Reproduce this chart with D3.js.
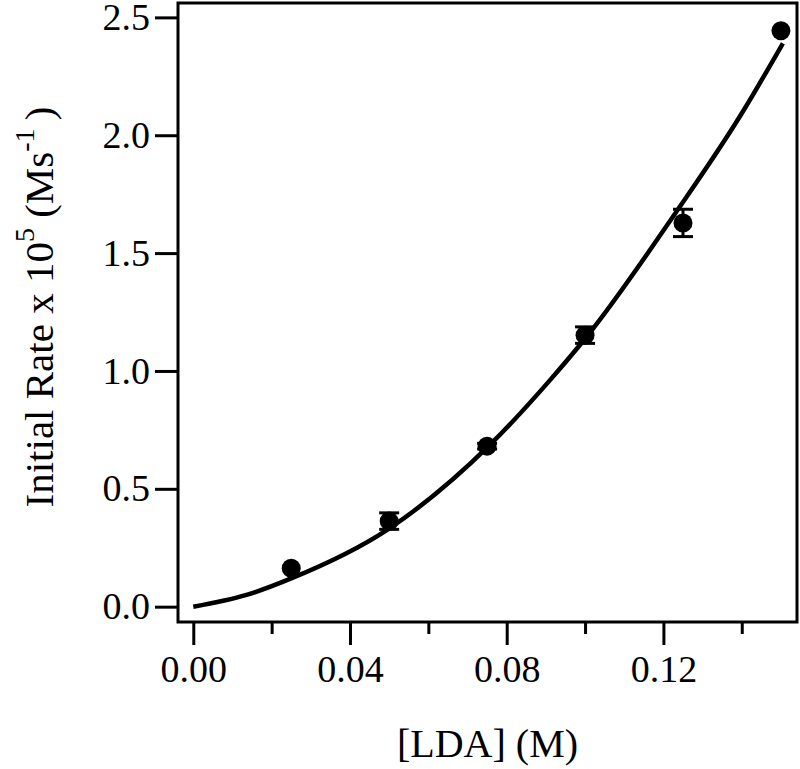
<!DOCTYPE html>
<html>
<head>
<meta charset="utf-8">
<script src="https://cdn.jsdelivr.net/npm/d3@7"></script>
<style>
  body { margin:0; background:#fff; }
  svg { display:block; }
  text { font-family: "Palatino Linotype", "Book Antiqua", Palatino, "Liberation Serif", serif; fill:#000; }
</style>
</head>
<body>
<div id="chart"></div>
<script>
// measured points
var lda = [0.025, 0.05, 0.075, 0.10, 0.125, 0.15];
var rate = [0.163, 0.363, 0.681, 1.152, 1.628, 2.443];
var rateErr = [0.0, 0.035, 0.012, 0.035, 0.058, 0.0];

// fitted curve
var fitX = [0.000, 0.0136, 0.025, 0.0494, 0.0757, 0.091, 0.1004, 0.123, 0.1399, 0.1505];
var fitY = [0.000, 0.050, 0.120, 0.325, 0.686, 0.960, 1.145, 1.668, 2.090, 2.390];

var xTicks = [0, 0.04, 0.08, 0.12];
var xMinor = [0.02, 0.06, 0.10, 0.14];
var yTicks = [0, 0.5, 1.0, 1.5, 2.0, 2.5];

var W = 800, H = 769;
var pl = 178, pr = 797, pt = 3, pb = 622;

var svg = d3.select("#chart").append("svg").attr("width", W).attr("height", H);

var x = d3.scaleLinear().domain([-0.0039, 0.1541]).range([pl, pr]);
var y = d3.scaleLinear().domain([-0.065, 2.561]).range([pb, pt]);

// frame
svg.append("rect").attr("x", pl).attr("y", pt)
  .attr("width", pr-pl).attr("height", pb-pt)
  .attr("fill", "none").attr("stroke", "#000").attr("stroke-width", 3);

// x axis
svg.append("g").attr("transform", "translate(0," + pb + ")")
  .call(d3.axisBottom(x).tickValues(xTicks).tickFormat(d3.format(".2f")).tickSize(23).tickPadding(10));
svg.append("g").attr("transform", "translate(0," + pb + ")")
  .call(d3.axisBottom(x).tickValues(xMinor).tickFormat("").tickSize(12));

// y axis
svg.append("g").attr("transform", "translate(" + pl + ",0)")
  .call(d3.axisLeft(y).tickValues(yTicks).tickFormat(d3.format(".1f")).tickSize(23).tickPadding(5));

svg.selectAll(".domain").remove();
svg.selectAll(".tick line").attr("stroke", "#000").attr("stroke-width", 3);
svg.selectAll(".tick text").style("font-size", "38px")
  .style("font-family", "\"Palatino Linotype\", \"Book Antiqua\", Palatino, \"Liberation Serif\", serif")
  .attr("fill", "#000");

// fit curve
var pts = fitX.map(function(d, i){ return [d, fitY[i]]; });
var line = d3.line().x(function(d){ return x(d[0]); }).y(function(d){ return y(d[1]); }).curve(d3.curveMonotoneX);
svg.append("path").datum(pts).attr("d", line)
  .attr("fill", "none").attr("stroke", "#000").attr("stroke-width", 4.5);

// error bars
var data = lda.map(function(d, i){ return {x:d, y:rate[i], e:rateErr[i]}; });
var eb = svg.append("g").attr("stroke", "#000").attr("stroke-width", 3);
data.filter(function(d){ return d.e > 0; }).forEach(function(d){
  var cx = x(d.x);
  eb.append("line").attr("x1", cx).attr("x2", cx).attr("y1", y(d.y - d.e)).attr("y2", y(d.y + d.e));
  eb.append("line").attr("x1", cx-10).attr("x2", cx+10).attr("y1", y(d.y + d.e)).attr("y2", y(d.y + d.e));
  eb.append("line").attr("x1", cx-10).attr("x2", cx+10).attr("y1", y(d.y - d.e)).attr("y2", y(d.y - d.e));
});

// markers
svg.append("g").selectAll("circle").data(data).enter().append("circle")
  .attr("cx", function(d){ return x(d.x); })
  .attr("cy", function(d){ return y(d.y); })
  .attr("r", 9.5).attr("fill", "#000");

// axis titles
svg.append("text").attr("x", (pl+pr)/2).attr("y", 757)
  .attr("text-anchor", "middle").style("font-size", "40px").text("[LDA] (M)");

var yt = svg.append("text").attr("transform", "translate(53,307) rotate(-90)")
  .attr("text-anchor", "middle").style("font-size", "41px");
yt.append("tspan").text("Initial Rate x 10");
yt.append("tspan").attr("dy", -19).style("font-size", "28px").text("5");
yt.append("tspan").attr("dy", 19).text(" (Ms");
yt.append("tspan").attr("dy", -19).style("font-size", "28px").text("-1");
yt.append("tspan").attr("dy", 19).text("\u2009)");
</script>
</body>
</html>
